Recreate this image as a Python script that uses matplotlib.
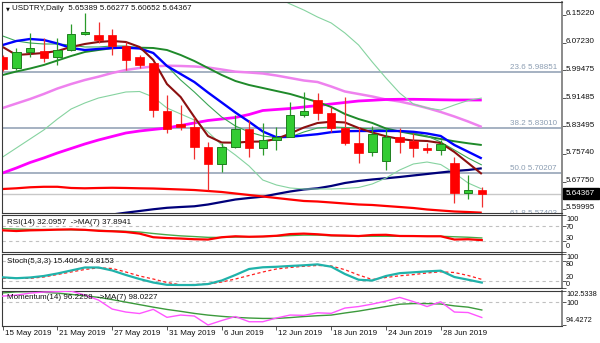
import numpy as np
import matplotlib
matplotlib.use("Agg")
import matplotlib.pyplot as plt
from matplotlib.transforms import blended_transform_factory, ScaledTranslation
from matplotlib.patches import Rectangle

plt.rcParams['font.family'] = ['Liberation Sans', 'DejaVu Sans']

# ---------------- data ----------------
symbol = "USDTRY,Daily"
opens = [6.0324, 6.0011, 6.0475, 6.0495, 6.0324, 6.0523, 6.0978, 6.0964, 6.0950, 6.0637,
         6.0324, 6.0139, 5.8796, 5.8431, 5.8340, 5.7772, 5.7279, 5.7772, 5.8266, 5.7726,
         5.7962, 5.8056, 5.8673, 5.9100, 5.8722, 5.8295, 5.7868, 5.7630, 5.7374, 5.8039,
         5.7942, 5.7734, 5.7678, 5.7300, 5.6445, 5.65389]
highs = [6.0381, 6.0580, 6.1007, 6.0865, 6.0865, 6.1263, 6.1568, 6.1320, 6.1121, 6.0751,
         6.0381, 6.0153, 5.9242, 5.8958, 5.8617, 5.7914, 5.7877, 5.8673, 5.8531, 5.8437,
         5.8340, 5.9052, 5.9336, 5.9291, 5.8910, 5.9194, 5.8340, 5.8360, 5.8295, 5.8295,
         5.8152, 5.7868, 5.7962, 5.7487, 5.6966, 5.66277]
lows = [5.9925, 5.9954, 6.0324, 6.0181, 6.0096, 6.0500, 6.0964, 6.0723, 6.0381, 5.9954,
        6.0011, 5.8625, 5.8161, 5.8246, 5.7422, 5.6539, 5.7060, 5.7734, 5.7487, 5.7536,
        5.7678, 5.8047, 5.8625, 5.8531, 5.8198, 5.7820, 5.7300, 5.7507, 5.7108, 5.7584,
        5.7487, 5.7584, 5.7536, 5.6177, 5.6280, 5.60652]
closes = [5.9982, 6.0466, 6.0589, 6.0295, 6.0523, 6.0978, 6.1021, 6.0794, 6.0623, 6.0239,
          6.0096, 5.8816, 5.8266, 5.8340, 5.7754, 5.7279, 5.7754, 5.8266, 5.7726, 5.7962,
          5.8056, 5.8673, 5.8796, 5.8722, 5.8295, 5.7868, 5.7584, 5.8133, 5.8039, 5.7914,
          5.7726, 5.7678, 5.7848, 5.6462, 5.6539, 5.64367]

ma_maroon = [6.0609, 6.0381, 6.0409, 6.0438, 6.0495, 6.0609, 6.0694, 6.0751, 6.0779, 6.0751,
             6.0609, 6.0239, 5.9555, 5.9185, 5.8616, 5.8075, 5.7890, 5.7885, 5.7913, 5.7919,
             5.7990, 5.8147, 5.8317, 5.8445, 5.8482, 5.8460, 5.8303, 5.8175, 5.8067, 5.7990,
             5.7947, 5.7933, 5.7876, 5.7620, 5.7307, 5.6994]
ma_blue = [6.0665, 6.0779, 6.0836, 6.0808, 6.0708, 6.0580, 6.0523, 6.0552, 6.0580, 6.0589,
           6.0566, 6.0438, 6.0068, 5.9840, 5.9612, 5.9313, 5.9029, 5.8744, 5.8482, 5.8204,
           5.8039, 5.8053, 5.8090, 5.8127, 5.8184, 5.8212, 5.8218, 5.8218, 5.8218, 5.8218,
           5.8195, 5.8147, 5.8075, 5.7819, 5.7628, 5.7435]
ma_green = [5.9812, 5.9911, 5.9996, 6.0096, 6.0224, 6.0352, 6.0466, 6.0523, 6.0574, 6.0589,
            6.0589, 6.0580, 6.0523, 6.0381, 6.0210, 6.0011, 5.9812, 5.9641, 5.9527, 5.9442,
            5.9356, 5.9271, 5.9157, 5.9043, 5.8901, 5.8702, 5.8559, 5.8446, 5.8289, 5.8204,
            5.8133, 5.8061, 5.7990, 5.7925, 5.7868, 5.7819]
ma_green2 = [6.0922, 6.0779, 6.0722, 6.0694, 6.0694, 6.0665, 6.0609, 6.0609, 6.0637, 6.0637,
             6.0580, 6.0438, 6.0068, 5.9669, 5.9328, 5.8958, 5.8616, 5.8360, 5.8189, 5.8075,
             5.8033, 5.8047, 5.8189, 5.8303, 5.8332, 5.8317, 5.8303, 5.8275, 5.8246, 5.8204,
             5.8161, 5.8075, 5.7904, 5.7677, 5.7449, 5.7250]
bb_upper = [np.nan] * 19 + [6.2288, 6.2031, 6.1832, 6.1661, 6.1462, 6.1292, 6.1007, 6.0665,
                            6.0182, 5.9726, 5.9299, 5.8986, 5.8872, 5.8815, 5.8958, 5.9086, 5.9157]
bb_lower = [5.7478, 5.7734, 5.7990, 5.8246, 5.8559, 5.8844, 5.9015, 5.9157, 5.9242, 5.9328,
            5.9342, 5.9185, 5.8872, 5.8702, 5.8531, 5.8189, 5.7819, 5.7534, 5.7221, 5.6823,
            5.6681, 5.6596, 5.6567, 5.6567, 5.6567, 5.6582, 5.6610, 5.6710, 5.6880, 5.7108,
            5.7279, 5.7335, 5.7264, 5.7022, 5.6738, 5.6567]
ma_magenta = [5.7023, 5.7165, 5.7321, 5.7450, 5.7592, 5.7720, 5.7848, 5.7962, 5.8062, 5.8161,
              5.8218, 5.8261, 5.8303, 5.8375, 5.8446, 5.8517, 5.8559, 5.8602, 5.8687, 5.8801,
              5.8830, 5.8858, 5.8901, 5.8943, 5.8986, 5.9029, 5.9072, 5.9092, 5.9114, 5.9120,
              5.9120, 5.9114, 5.9106, 5.9100, 5.9100, 5.9100]
ma_violet = [5.8872, 5.9000, 5.9128, 5.9271, 5.9427, 5.9555, 5.9669, 5.9763, 5.9869, 5.9954,
             6.0011, 6.0054, 6.0076, 6.0068, 6.0054, 6.0025, 5.9968, 5.9906, 5.9883, 5.9854,
             5.9797, 5.9726, 5.9655, 5.9612, 5.9484, 5.9342, 5.9271, 5.9200, 5.9114, 5.9057,
             5.8972, 5.8872, 5.8759, 5.8630, 5.8488, 5.8332]
ma_red = [5.6567, 5.6587, 5.6616, 5.6630, 5.6630, 5.6596, 5.6587, 5.6596, 5.6602, 5.6596,
          5.6587, 5.6581, 5.6567, 5.6553, 5.6538, 5.6510, 5.6482, 5.6439, 5.6396, 5.6354,
          5.6311, 5.6268, 5.6226, 5.6211, 5.6183, 5.6154, 5.6126, 5.6112, 5.6083, 5.6055,
          5.6026, 5.5984, 5.5955, 5.5927, 5.5912, 5.5893]
ma_navy = [5.5457, 5.5486, 5.5528, 5.5571, 5.5628, 5.5671, 5.5728, 5.5785, 5.5841, 5.5893,
           5.5941, 5.5990, 5.6032, 5.6055, 5.6075, 5.6126, 5.6197, 5.6268, 5.6311, 5.6348,
           5.6425, 5.6496, 5.6553, 5.6587, 5.6653, 5.6738, 5.6795, 5.6838, 5.6872, 5.6909,
           5.6952, 5.6994, 5.7037, 5.7080, 5.7108, 5.7156]

fib_pcts = ["23.6", "38.2", "50.0", "61.8"]
fib_prices = [5.98851, 5.83010, 5.70207, 5.57403]
price_ticks = [6.15220, 6.07230, 5.99475, 5.91485, 5.83495, 5.75740, 5.67750, 5.59995]

rsi = [58.5, 56.7, 58.5, 59.3, 60.4, 61.2, 59.9, 57.2, 55.9, 54.0,
       49.7, 39.9, 37.7, 36.4, 34.5, 33.7, 39.9, 42.5, 41.2, 42.0,
       43.9, 48.4, 49.7, 47.9, 45.2, 44.4, 43.1, 46.0, 46.5, 43.3,
       43.1, 42.5, 42.5, 33.7, 34.5, 32.0957]
rsi_ma = [63.1, 62.0, 61.2, 60.9, 60.7, 60.1, 59.3, 58.5, 57.2, 55.9,
          54.0, 50.0, 46.5, 43.6, 41.7, 39.6, 39.3, 40.4, 40.9, 41.5,
          42.5, 44.4, 45.7, 45.7, 43.9, 43.1, 42.5, 42.5, 42.5, 42.5,
          42.5, 42.5, 42.5, 41.2, 39.9, 37.8941]
stoch_main = [30.9, 28.3, 30.4, 34.8, 42.2, 51.1, 59.9, 59.9, 51.1, 37.8,
              25.9, 15.6, 8.8, 8.2, 8.2, 11.1, 21.5, 37.8, 55.5, 60.5,
              62.0, 64.4, 66.4, 69.1, 62.3, 40.7, 23.8, 21.5, 34.8, 43.1,
              45.7, 48.4, 50.5, 31.8, 23.8, 15.4064]
stoch_signal = [28.0, 28.0, 28.0, 31.8, 39.2, 46.6, 54.0, 59.0, 57.0, 46.6,
                34.8, 25.9, 15.6, 8.8, 9.6, 11.1, 17.0, 25.9, 36.3, 46.6,
                55.5, 59.9, 63.5, 65.9, 64.4, 53.4, 37.8, 24.4, 30.4, 35.4,
                38.9, 43.7, 47.2, 45.1, 36.3, 24.8153]
momentum = [101.34, 101.58, 102.06, 102.30, 102.41, 102.5338, 101.58, 100.39, 98.24, 97.53,
            97.17, 98.17, 96.26, 96.81, 96.57, 94.4272, 95.50, 96.45, 95.21, 95.21,
            96.10, 96.81, 96.74, 97.34, 97.22, 98.48, 98.84, 99.43, 100.15, 101.03,
            100.03, 98.84, 99.98, 97.53, 97.41, 96.2258]
momentum_ma = [102.10, 102.35, 102.40, 102.25, 102.05, 101.75, 101.40, 101.05, 100.50, 99.90,
               99.30, 98.70, 98.15, 97.70, 97.20, 96.80, 96.50, 96.25, 96.10, 96.00,
               96.00, 96.20, 96.45, 96.65, 96.80, 97.30, 97.75, 98.30, 98.85, 99.40,
               99.55, 99.55, 99.45, 99.00, 98.70, 98.0227]

date_idx = [0, 4, 8, 12, 16, 20, 24, 28, 32]
date_labels = ["15 May 2019", "21 May 2019", "27 May 2019", "31 May 2019", "6 Jun 2019",
               "12 Jun 2019", "18 Jun 2019", "24 Jun 2019", "28 Jun 2019"]

# ---------------- layout ----------------
W, H = 600, 343
fig = plt.figure(figsize=(6, 3.43), dpi=100)
fig.patch.set_facecolor("white")
FS = 5.8
FS_SUB = 5.3
TXT = "#101010"


def frame(top, bottom, left=2, right=562):
    return [left / W, 1 - bottom / H, (right - left) / W, (bottom - top) / H]


ax = fig.add_axes(frame(2, 213))
ax_rsi = fig.add_axes(frame(215, 252))
ax_st = fig.add_axes(frame(253.5, 288.3))
ax_mo = fig.add_axes(frame(290.5, 325.5))
axes = [ax, ax_rsi, ax_st, ax_mo]

x = np.arange(len(closes))
XL = (-0.05, 40.86)
for a in axes:
    a.set_xlim(*XL)
    a.set_facecolor("white")
    for s in a.spines.values():
        s.set_color("#3a3a3a")
        s.set_linewidth(0.8)
    a.spines["right"].set_color("#8a8a8a")
    a.spines["right"].set_linewidth(1.4)
    a.yaxis.tick_right()
    a.tick_params(axis="y", length=3, width=0.7, color="#555555",
                  labelright=False, labelleft=False)
    a.tick_params(axis="x", length=0, labelbottom=False)
    a.set_xticks([])

ax.set_ylim(5.5884, 6.1889)
ax_rsi.set_ylim(0, 100)
ax_st.set_ylim(-1.5, 101.2)
ax_mo.set_ylim(94.31, 102.68)

# ---------------- main chart ----------------
for p in fib_prices:
    ax.axhline(p, color="#8d9db1", lw=1.1, zorder=1)
ax.axhline(closes[-1], color="#c8c8c8", lw=1.0, zorder=1)

line_specs = [
    (ma_navy, "#00007a", 1.6),
    (ma_red, "#ff0000", 1.6),
    (ma_violet, "#ee82ee", 1.8),
    (ma_magenta, "#ff00ff", 2.0),
    (bb_upper, "#86d3a0", 0.8),
    (bb_lower, "#86d3a0", 0.8),
    (ma_green, "#1f8a2a", 1.4),
    (ma_green2, "#3aa655", 0.8),
    (ma_blue, "#0000ff", 1.7),
    (ma_maroon, "#8b1010", 1.5),
]
for vals, col, lw in line_specs:
    ax.plot(x, vals, color=col, lw=lw, zorder=2, solid_capstyle="butt")

o = np.array(opens); c = np.array(closes); h = np.array(highs); l = np.array(lows)
up = c >= o
bw = 0.62
wick_col = np.where(up, "#2a9a2a", "#f03030")
ax.vlines(x, l, h, colors=list(wick_col), lw=0.9, zorder=3)
body_lo = np.minimum(o, c)
body_h = np.maximum(np.abs(c - o), 0.0012)
ax.bar(x[up], body_h[up], bottom=body_lo[up], width=bw, color="#33cc33",
       edgecolor="#1f7f1f", linewidth=0.7, zorder=4)
ax.bar(x[~up], body_h[~up], bottom=body_lo[~up], width=bw, color="#ff0000",
       edgecolor="#ff0000", linewidth=0.5, zorder=4)

# fibonacci texts
fib_tr = blended_transform_factory(ax.transAxes, ax.transData) + \
    ScaledTranslation(0, 1.2 / 100, fig.dpi_scale_trans)
for pct, p in zip(fib_pcts, fib_prices):
    ax.text(0.991, p, f"{pct} {p:.5f}", transform=fib_tr, ha="right", va="bottom",
            fontsize=FS, color="#8b9db2", clip_on=True, zorder=5)


def right_labels(a, vals, texts, dys, fs):
    a.set_yticks(vals)
    for v, t, dy in zip(vals, texts, dys):
        tr = blended_transform_factory(a.transAxes, a.transData) + \
            ScaledTranslation(0, -dy / 100, fig.dpi_scale_trans)
        a.text(1 + 4 / 560, v, t, transform=tr, ha="left", va="center",
               fontsize=fs, color=TXT, clip_on=False)


right_labels(ax, price_ticks, [f"{v:.5f}" for v in price_ticks], [-1] * len(price_ticks), FS)

# current price box
fig.canvas.draw()
py = ax.transData.transform((0, closes[-1]))[1]
fig.patches.append(Rectangle((562.5 / W, (py - 5.6) / H), 36 / W, 11.2 / H,
                             transform=fig.transFigure, facecolor="black",
                             edgecolor="black", zorder=10))
fig.text(565.5 / W, py / H, f"{closes[-1]:.5f}", color="white", fontsize=FS,
         ha="left", va="center", zorder=11)

# title
ax.text(4 / 560, 1 - 6.8 / 211, "\u25BC", transform=ax.transAxes, fontsize=3.6,
        color=TXT, ha="left", va="center", family=["DejaVu Sans"])
ax.text(10 / 560, 1 - 6.5 / 211,
        f"{symbol}  {opens[-1]:.5f} {highs[-1]:.5f} {lows[-1]:.5f} {closes[-1]:.5f}",
        transform=ax.transAxes, fontsize=FS, color=TXT, ha="left", va="center")

# ---------------- RSI ----------------
for lv in (70, 30):
    ax_rsi.axhline(lv, color="#c0c0c0", lw=0.8, ls=(0, (3, 3)), zorder=1)
ax_rsi.plot(x, rsi_ma, color="#49a949", lw=1.0, zorder=2)
ax_rsi.plot(x, rsi, color="#ff0000", lw=1.6, zorder=3)
right_labels(ax_rsi, [100, 70, 30, 0], ["100", "70", "30", "0"], [4.3, 1.6, -2.4, -5.2], FS_SUB)
ax_rsi.text(5 / 560, 1 - 7.5 / 37, f"RSI(14) {rsi[-1]:.4f}  ->MA(7) {rsi_ma[-1]:.4f}",
            transform=ax_rsi.transAxes, fontsize=FS, color=TXT, ha="left", va="center")

# ---------------- Stochastic ----------------
for lv in (80, 20):
    ax_st.axhline(lv, color="#c0c0c0", lw=0.8, ls=(0, (3, 3)), zorder=1)
ax_st.plot(x, stoch_signal, color="#ff2020", lw=0.9, ls=(0, (2.5, 2)), zorder=2)
ax_st.plot(x, stoch_main, color="#20b2aa", lw=1.6, zorder=3)
right_labels(ax_st, [100, 80, 20, 0], ["100", "80", "20", "0"], [3.2, 4.0, -3.6, -2.9], FS_SUB)
ax_st.text(5 / 560, 1 - 8.2 / 34.8, f"Stoch(5,3,3) {stoch_main[-1]:.4f} {stoch_signal[-1]:.4f}",
           transform=ax_st.transAxes, fontsize=FS, color=TXT, ha="left", va="center")

# ---------------- Momentum ----------------
ax_mo.axhline(100, color="#c0c0c0", lw=0.8, ls=(0, (3, 3)), zorder=1)
ax_mo.plot(x, momentum_ma, color="#3c9a3c", lw=1.0, zorder=2)
ax_mo.plot(x, momentum, color="#ff55ff", lw=1.0, zorder=3)
mmax, mmin = max(momentum), min(momentum)
right_labels(ax_mo, [mmax, 100, mmin], [f"{mmax:.4f}", "100", f"{mmin:.4f}"], [3.4, 1.4, -4.5], FS_SUB)
ax_mo.text(5 / 560, 1 - 6.8 / 35, f"Momentum(14) {momentum[-1]:.4f}  ->MA(7) {momentum_ma[-1]:.4f}",
           transform=ax_mo.transAxes, fontsize=FS, color=TXT, ha="left", va="center")

# date axis
ax_mo.set_xticks(date_idx)
ax_mo.tick_params(axis="x", length=3, width=0.7, color="#555555", labelbottom=False)
dt = blended_transform_factory(ax_mo.transData, ax_mo.transAxes) + \
    ScaledTranslation(2 / 100, -8 / 100, fig.dpi_scale_trans)
for i, lab in zip(date_idx, date_labels):
    ax_mo.text(i, 0, lab, transform=dt, fontsize=FS, color=TXT, ha="left", va="center",
               clip_on=False)

fig.savefig("out.png", dpi=100, facecolor="white")
